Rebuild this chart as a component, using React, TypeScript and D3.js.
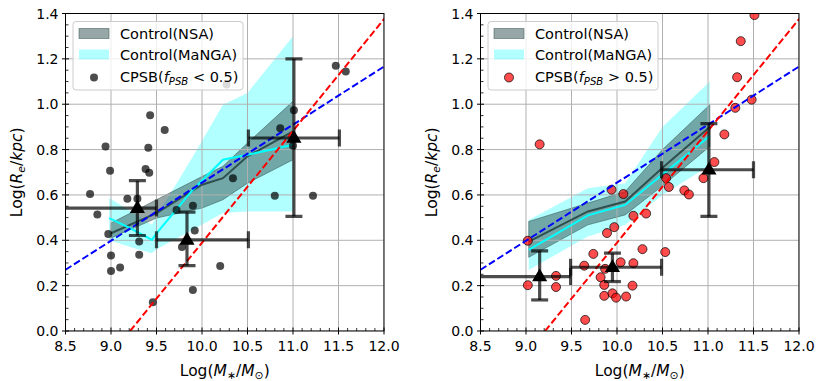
import React from 'react';
import * as d3 from 'd3';

const W = 830;
const H = 381;

// shared fit lines
const blueFitX = [8.5, 12.0];
const blueFitY = [0.27, 1.166];
const redFitX = [9.21, 12.05];
const redFitY = [0.0, 1.40];

// tick values
const xTicks = [8.5, 9.0, 9.5, 10.0, 10.5, 11.0, 11.5, 12.0];
const yTicks = [0.0, 0.2, 0.4, 0.6, 0.8, 1.0, 1.2, 1.4];

// ---------- left panel (fPSB < 0.5) ----------
const leftPtX = [9.43, 9.59, 8.94, 9.41, 8.99, 9.38, 9.42, 8.77, 9.18, 9.29, 8.85, 9.90, 9.72, 8.97, 9.31, 9.92, 9.78, 9.0, 9.31, 9.10, 9.0, 10.20, 9.90, 9.46, 10.34, 10.86, 11.01, 10.80, 11.22, 11.0, 10.27, 11.47, 11.58];
const leftPtY = [0.951, 0.886, 0.814, 0.808, 0.707, 0.714, 0.698, 0.604, 0.583, 0.583, 0.514, 0.552, 0.534, 0.428, 0.395, 0.443, 0.370, 0.333, 0.336, 0.280, 0.265, 0.287, 0.181, 0.127, 0.673, 0.894, 0.973, 0.596, 0.596, 0.817, 1.087, 1.17, 1.144];

const leftTriX = [9.29, 9.835, 11.01];
const leftTriY = [0.542, 0.402, 0.851];
const leftTriXlo = [8.40, 9.50, 10.51];
const leftTriXhi = [9.50, 10.51, 11.51];
const leftTriYlo = [0.421, 0.288, 0.505];
const leftTriYhi = [0.663, 0.524, 1.20];

const leftNsaX = [9.0, 9.5, 10.0, 10.23, 10.5, 11.0];
const leftNsaMid = [0.431, 0.520, 0.645, 0.674, 0.770, 0.880];
const leftNsaLo = [0.410, 0.498, 0.542, 0.579, 0.652, 0.755];
const leftNsaHi = [0.476, 0.579, 0.681, 0.726, 0.829, 1.013];

const leftMangaX = [8.98, 9.21, 9.45, 9.5, 9.9, 10.23, 10.5, 11.0];
const leftMangaMid = [0.498, 0.454, 0.402, 0.43, 0.623, 0.755, 0.777, 0.821];
const leftMangaLo = [0.40, 0.37, 0.343, 0.36, 0.446, 0.52, 0.527, 0.527];
const leftMangaHi = [0.586, 0.53, 0.468, 0.505, 0.77, 0.998, 1.05, 1.30];

// ---------- right panel (fPSB > 0.5) ----------
const rightPtX = [11.51, 11.36, 11.32, 11.48, 11.30, 11.18, 11.07, 9.15, 10.54, 10.95, 10.57, 10.74, 10.79, 9.94, 10.07, 10.18, 10.32, 9.97, 9.89, 9.02, 10.28, 10.53, 9.74, 9.64, 10.04, 10.18, 9.87, 9.82, 9.33, 9.02, 9.33, 9.86, 10.17, 9.86, 9.95, 9.99, 10.10, 9.65];
const rightPtY = [1.393, 1.278, 1.119, 1.02, 0.984, 0.867, 0.745, 0.823, 0.674, 0.674, 0.635, 0.620, 0.602, 0.623, 0.604, 0.508, 0.518, 0.458, 0.432, 0.398, 0.361, 0.348, 0.340, 0.288, 0.303, 0.299, 0.274, 0.237, 0.243, 0.202, 0.194, 0.203, 0.200, 0.155, 0.166, 0.147, 0.152, 0.049];

const rightTriX = [9.15, 9.95, 11.01];
const rightTriY = [0.240, 0.281, 0.711];
const rightTriXlo = [8.40, 9.49, 10.49];
const rightTriXhi = [9.49, 10.49, 11.50];
const rightTriYlo = [0.137, 0.218, 0.505];
const rightTriYhi = [0.353, 0.343, 0.914];

const rightNsaX = [9.03, 9.68, 10.09, 10.5, 11.02];
const rightNsaMid = [0.394, 0.527, 0.571, 0.72, 0.90];
const rightNsaLo = [0.325, 0.468, 0.512, 0.64, 0.814];
const rightNsaHi = [0.483, 0.564, 0.615, 0.80, 0.998];

const rightMangaX = [9.03, 9.68, 10.09, 10.5, 11.02];
const rightMangaMid = [0.358, 0.51, 0.556, 0.69, 0.86];
const rightMangaLo = [0.269, 0.417, 0.468, 0.60, 0.73];
const rightMangaHi = [0.49, 0.630, 0.652, 0.90, 1.10];

type Seg = { t: string; it?: boolean; sub?: boolean };

function MText(props: { x: number; y: number; segs: Seg[]; size: number; anchor?: string; transform?: string }) {
  const { x, y, segs, size, anchor, transform } = props;
  const shift = size * 0.22;
  let inSub = false;
  const spans = segs.map((s, i) => {
    let dy = 0;
    if (s.sub && !inSub) { dy = shift; inSub = true; }
    else if (!s.sub && inSub) { dy = -shift; inSub = false; }
    return (
      <tspan key={i} dy={dy} fontStyle={s.it ? 'italic' : 'normal'} fontSize={s.sub ? size * 0.7 : size}>
        {s.t}
      </tspan>
    );
  });
  return (
    <text x={x} y={y} fontSize={size} textAnchor={anchor || 'start'} transform={transform}
      fontFamily="DejaVu Sans" fill="#000" style={{ whiteSpace: 'pre' }}>
      {spans}
    </text>
  );
}

const yLabelSegs: Seg[] = [{ t: 'Log(' }, { t: 'R', it: true }, { t: 'e', it: true, sub: true }, { t: '/' }, { t: 'kpc', it: true }, { t: ')' }];
const xLabelSegs: Seg[] = [{ t: 'Log(' }, { t: 'M', it: true }, { t: '∗', sub: true }, { t: '/' }, { t: 'M', it: true }, { t: '⊙', sub: true }, { t: ')' }];

type PanelProps = {
  id: string;
  x0: number;
  ptX: number[]; ptY: number[];
  triX: number[]; triY: number[]; triXlo: number[]; triXhi: number[]; triYlo: number[]; triYhi: number[];
  nsaX: number[]; nsaMid: number[]; nsaLo: number[]; nsaHi: number[];
  mangaX: number[]; mangaMid: number[]; mangaLo: number[]; mangaHi: number[];
  red: boolean;
  legendSym: string;
};

function Panel(p: PanelProps) {
  const pw = 318.5;
  const yTop = 13.5, yBot = 331;
  const x = d3.scaleLinear().domain([8.5, 12.0]).range([p.x0, p.x0 + pw]);
  const y = d3.scaleLinear().domain([0, 1.4]).range([yBot, yTop]);
  const idx = (a: number[]) => a.map((_, i) => i);

  const areaN = d3.area<number>().x(i => x(p.nsaX[i])).y0(i => y(p.nsaLo[i])).y1(i => y(p.nsaHi[i]));
  const lineN = d3.line<number>().x(i => x(p.nsaX[i])).y(i => y(p.nsaMid[i]));
  const areaM = d3.area<number>().x(i => x(p.mangaX[i])).y0(i => y(p.mangaLo[i])).y1(i => y(p.mangaHi[i]));
  const lineM = d3.line<number>().x(i => x(p.mangaX[i])).y(i => y(p.mangaMid[i]));

  const minorX = d3.range(85, 121).map(v => v / 10).filter(v => Math.abs(v * 2 - Math.round(v * 2)) > 1e-6);
  const minorY = d3.range(0, 29).map(v => v * 0.05).filter(v => Math.abs(v * 5 - Math.round(v * 5)) > 1e-6);

  const clipId = 'clip-' + p.id;
  const lg = { x: p.x0 + 7.5, y: 21.5, w: 170, h: 68.5 };

  return (
    <g>
      <defs>
        <clipPath id={clipId}>
          <rect x={p.x0} y={yTop} width={pw} height={yBot - yTop} />
        </clipPath>
      </defs>
      <g clipPath={`url(#${clipId})`}>
        <path d={areaM(idx(p.mangaX)) || ''} fill="cyan" fillOpacity={0.3} />
        <path d={areaN(idx(p.nsaX)) || ''} fill="#2f4f4f" fillOpacity={0.5} stroke="#2f4f4f" strokeOpacity={0.5} strokeWidth={1} />
        {/* grid */}
        {xTicks.map(v => <line key={'gx' + v} x1={x(v)} x2={x(v)} y1={yTop} y2={yBot} stroke="#b0b0b0" strokeWidth={1} />)}
        {yTicks.map(v => <line key={'gy' + v} x1={p.x0} x2={p.x0 + pw} y1={y(v)} y2={y(v)} stroke="#b0b0b0" strokeWidth={1} />)}
        <path d={lineN(idx(p.nsaX)) || ''} fill="none" stroke="#2f4f4f" strokeWidth={2} />
        <path d={lineM(idx(p.mangaX)) || ''} fill="none" stroke="cyan" strokeWidth={2} />
        {/* points */}
        {p.ptX.map((v, i) => p.red ? (
          <circle key={'p' + i} cx={x(v)} cy={y(p.ptY[i])} r={4.5} fill="#ff0000" fillOpacity={0.7} stroke="#000" strokeOpacity={0.7} strokeWidth={1} />
        ) : (
          <circle key={'p' + i} cx={x(v)} cy={y(p.ptY[i])} r={4} fill="#000" fillOpacity={0.7} />
        ))}
        {/* fit lines */}
        <line x1={x(blueFitX[0])} y1={y(blueFitY[0])} x2={x(blueFitX[1])} y2={y(blueFitY[1])} stroke="#0000ff" strokeWidth={2} strokeDasharray="7,3" />
        <line x1={x(redFitX[0])} y1={y(redFitY[0])} x2={x(redFitX[1])} y2={y(redFitY[1])} stroke="#ff0000" strokeWidth={2} strokeDasharray="7,3" />
        {/* error bars */}
        {p.triX.map((v, i) => {
          const cx = x(v), cy = y(p.triY[i]);
          const c = '#000';
          const op = 0.7;
          const cap = 8.5;
          return (
            <g key={'e' + i} stroke={c} strokeOpacity={op} strokeWidth={3.2}>
              <line x1={x(p.triXlo[i])} x2={x(p.triXhi[i])} y1={cy} y2={cy} />
              <line x1={cx} x2={cx} y1={y(p.triYlo[i])} y2={y(p.triYhi[i])} />
              <line x1={x(p.triXlo[i])} x2={x(p.triXlo[i])} y1={cy - cap} y2={cy + cap} />
              <line x1={x(p.triXhi[i])} x2={x(p.triXhi[i])} y1={cy - cap} y2={cy + cap} />
              <line x1={cx - cap} x2={cx + cap} y1={y(p.triYlo[i])} y2={y(p.triYlo[i])} />
              <line x1={cx - cap} x2={cx + cap} y1={y(p.triYhi[i])} y2={y(p.triYhi[i])} />
            </g>
          );
        })}
        {p.triX.map((v, i) => {
          const cx = x(v), cy = y(p.triY[i]);
          const s = 8;
          return <path key={'t' + i} d={`M${cx},${cy - s} L${cx + s * 0.95},${cy + s * 0.6} L${cx - s * 0.95},${cy + s * 0.6} Z`} fill="#000" />;
        })}
      </g>
      {/* spines */}
      <rect x={p.x0} y={yTop} width={pw} height={yBot - yTop} fill="none" stroke="#000" strokeWidth={1} />
      {/* ticks */}
      {xTicks.map(v => <line key={'tx' + v} x1={x(v)} x2={x(v)} y1={yBot - 3.5} y2={yBot + 3.5} stroke="#000" strokeWidth={1} />)}
      {minorX.map(v => <line key={'mx' + v} x1={x(v)} x2={x(v)} y1={yBot - 3} y2={yBot} stroke="#000" strokeWidth={0.8} />)}
      {yTicks.map(v => <line key={'ty' + v} x1={p.x0 - 3.5} x2={p.x0 + 3.5} y1={y(v)} y2={y(v)} stroke="#000" strokeWidth={1} />)}
      {minorY.map(v => <line key={'my' + v} x1={p.x0} x2={p.x0 + 3} y1={y(v)} y2={y(v)} stroke="#000" strokeWidth={0.8} />)}
      {xTicks.map(v => (
        <text key={'lx' + v} x={x(v)} y={yBot + 20} fontSize={14} textAnchor="middle" fontFamily="DejaVu Sans">{v.toFixed(1)}</text>
      ))}
      {yTicks.map(v => (
        <text key={'ly' + v} x={p.x0 - 7} y={y(v) + 5} fontSize={14} textAnchor="end" fontFamily="DejaVu Sans">{v.toFixed(1)}</text>
      ))}
      <MText x={p.x0 + pw / 2} y={376} segs={xLabelSegs} size={15.5} anchor="middle" />
      <MText x={0} y={0} segs={yLabelSegs} size={15.5} anchor="middle"
        transform={`translate(${p.x0 - 44},${(yTop + yBot) / 2}) rotate(-90)`} />
      {/* legend */}
      <g>
        <rect x={lg.x} y={lg.y} width={lg.w} height={lg.h} rx={3} fill="#fff" fillOpacity={0.8} stroke="#cccccc" strokeWidth={1} />
        <rect x={lg.x + 6} y={lg.y + 7} width={30} height={10} fill="#2f4f4f" fillOpacity={0.5} stroke="#2f4f4f" strokeOpacity={0.5} />
        <rect x={lg.x + 6} y={lg.y + 28} width={30} height={10} fill="cyan" fillOpacity={0.3} />
        {p.red
          ? <circle cx={lg.x + 21} cy={lg.y + 56} r={4.5} fill="#ff0000" fillOpacity={0.7} stroke="#000" strokeOpacity={0.7} />
          : <circle cx={lg.x + 21} cy={lg.y + 56} r={4} fill="#000" fillOpacity={0.7} />}
        <text x={lg.x + 47} y={lg.y + 17} fontSize={14.5} fontFamily="DejaVu Sans">Control(NSA)</text>
        <text x={lg.x + 47} y={lg.y + 38} fontSize={14.5} fontFamily="DejaVu Sans">Control(MaNGA)</text>
        <MText x={lg.x + 47} y={lg.y + 60} size={14.5} segs={[{ t: 'CPSB(' }, { t: 'f', it: true }, { t: 'PSB', it: true, sub: true }, { t: ' ' + p.legendSym + ' 0.5' }, { t: ')' }]} />
      </g>
    </g>
  );
}

export default function App() {
  return (
    <svg width={W} height={H} style={{ display: 'block', position: 'absolute', left: 0, top: 0 }}>
      <rect width={W} height={H} fill="#fff" />
      <Panel id="L" x0={65.5} red={false} legendSym="<"
        ptX={leftPtX} ptY={leftPtY}
        triX={leftTriX} triY={leftTriY} triXlo={leftTriXlo} triXhi={leftTriXhi} triYlo={leftTriYlo} triYhi={leftTriYhi}
        nsaX={leftNsaX} nsaMid={leftNsaMid} nsaLo={leftNsaLo} nsaHi={leftNsaHi}
        mangaX={leftMangaX} mangaMid={leftMangaMid} mangaLo={leftMangaLo} mangaHi={leftMangaHi} />
      <Panel id="R" x0={480.5} red={true} legendSym=">"
        ptX={rightPtX} ptY={rightPtY}
        triX={rightTriX} triY={rightTriY} triXlo={rightTriXlo} triXhi={rightTriXhi} triYlo={rightTriYlo} triYhi={rightTriYhi}
        nsaX={rightNsaX} nsaMid={rightNsaMid} nsaLo={rightNsaLo} nsaHi={rightNsaHi}
        mangaX={rightMangaX} mangaMid={rightMangaMid} mangaLo={rightMangaLo} mangaHi={rightMangaHi} />
    </svg>
  );
}
